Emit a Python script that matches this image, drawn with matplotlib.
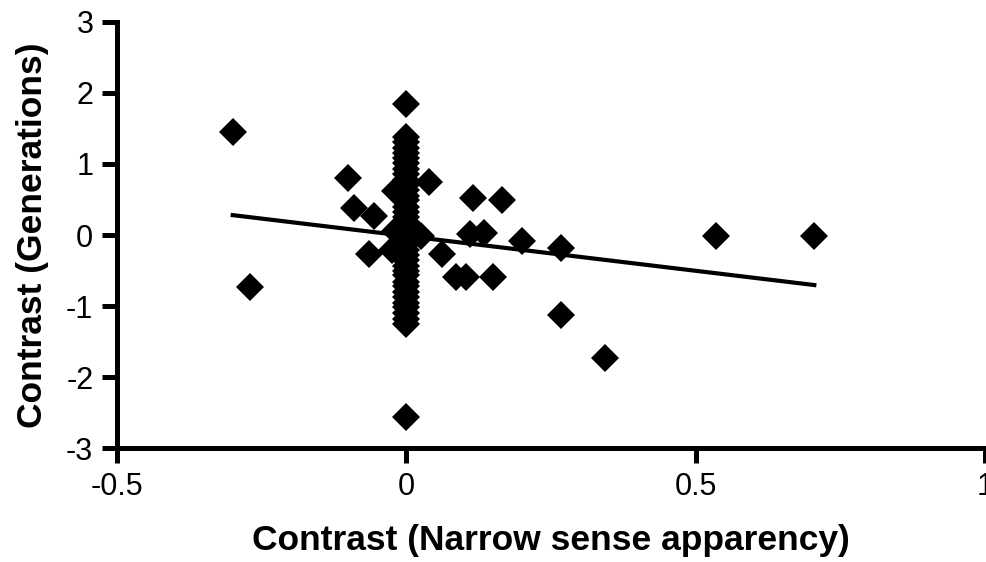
import matplotlib.pyplot as plt
import numpy as np

plt.rcParams['font.family'] = ['Liberation Sans', 'DejaVu Sans']
plt.rcParams['axes.unicode_minus'] = False

################################################################################

# scattered contrasts (narrow sense apparency, generations)
x_out = [-0.30, -0.27, -0.10, -0.09, -0.055, -0.065, -0.02, -0.024, 0.0, 0.0,
         0.04, 0.115, 0.165, 0.11, 0.135, 0.20, 0.268, 0.062, 0.085, 0.103,
         0.15, 0.268, 0.343, 0.535, 0.705, 0.025, -0.02, 0.012]
y_out = [1.45, -0.73, 0.80, 0.38, 0.27, -0.27, 0.62, -0.21, 1.85, -2.57,
         0.75, 0.52, 0.49, 0.01, 0.03, -0.08, -0.18, -0.27, -0.59, -0.59,
         -0.59, -1.12, -1.73, -0.01, -0.01, -0.02, 0.05, 0.08]

# dense column of species with zero apparency contrast
y_col = [1.38, 1.31, 1.22, 1.16, 1.08, 1.01, 0.93, 0.86, 0.77, 0.71,
         0.63, 0.55, 0.49, 0.40, 0.33, 0.26, 0.18, 0.11, 0.03, -0.05,
         -0.12, -0.21, -0.28, -0.35, -0.43, -0.50, -0.57, -0.66, -0.72, -0.80,
         -0.87, -0.96, -1.02, -1.10, -1.18, -1.25]
x_col = [0.0] * len(y_col)

# regression line
fit_slope = -0.98
fit_intercept = -0.014

xticks = [-0.5, 0, 0.5, 1]
xticklabels = ['-0.5', '0', '0.5', '1']
yticks = [-3, -2, -1, 0, 1, 2, 3]

################################################################################

x = np.array(x_out + x_col)
y = np.array(y_out + y_col)

fig = plt.figure(figsize=(9.87, 5.62), dpi=100)
ax = fig.add_axes([0.1185, 0.2028, 0.998 - 0.1185, 0.9609 - 0.2028])

ax.plot(x, y, 'D', color='black', ms=14, mew=0, clip_on=False)

xl = np.array([x.min(), x.max()])
ax.plot(xl, fit_slope * xl + fit_intercept, color='black', lw=3)

ax.set_xlim(-0.5, 1)
ax.set_ylim(-3, 3)
ax.set_xticks(xticks)
ax.set_xticklabels(xticklabels)
ax.set_yticks(yticks)

for s in ['top', 'right']:
	ax.spines[s].set_visible(False)
for s in ['left', 'bottom']:
	ax.spines[s].set_linewidth(3.6)
ax.tick_params(length=11, width=3.6, labelsize=22, pad=6)

ax.set_xlabel('Contrast (Narrow sense apparency)', fontsize=25.5, fontweight='bold', labelpad=16)
ax.set_ylabel('Contrast (Generations)', fontsize=25.5, fontweight='bold', labelpad=12)

fig.savefig('out.png', dpi=100)
